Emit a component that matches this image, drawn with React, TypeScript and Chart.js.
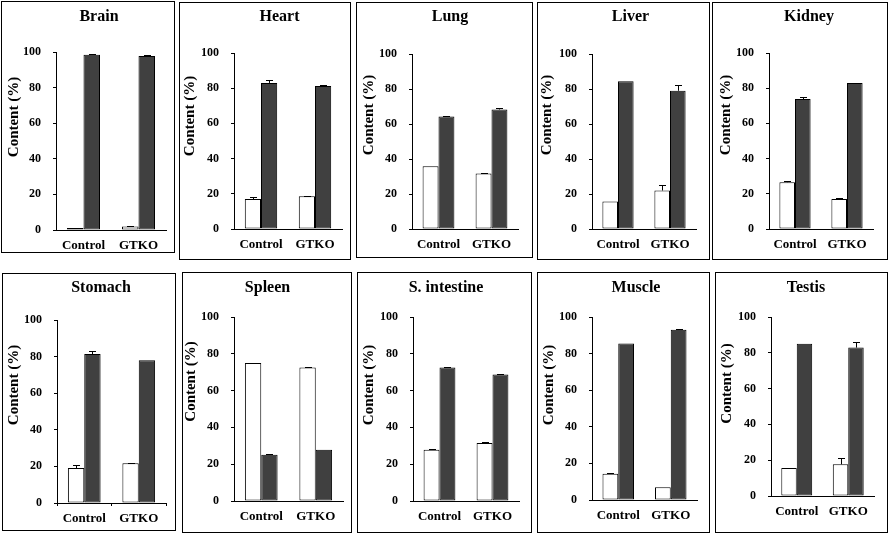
import React, { useEffect, useRef } from 'react';
import { Chart, registerables } from 'chart.js';

Chart.register(...registerables);

// ---------- DATA ----------
const panelTitles = ['Brain', 'Heart', 'Lung', 'Liver', 'Kidney', 'Stomach', 'Spleen', 'S. intestine', 'Muscle', 'Testis'];
const categories = ['Control', 'GTKO'];
const yAxisTitle = 'Content (%)';
const yMin = 0;
const yMax = 100;
const yStep = 20;

// white (open) bars per panel: [Control, GTKO]
const whiteValues = [
  [1.1, 1.9], [17.0, 18.6], [35.9, 31.7], [15.7, 22.0], [26.6, 17.1],
  [19.1, 21.7], [75.0, 72.5], [27.9, 31.5], [14.4, 6.9], [15.6, 17.7],
];
const whiteErrors = [
  [0.3, 0.3], [1.4, 0.4], [0, 0.4], [0, 3.4], [0.6, 0.3],
  [1.7, 0.4], [0, 0.5], [0.3, 0.3], [0.4, 0], [0.3, 3.5],
];
// dark (filled) bars per panel: [Control, GTKO]
const darkValues = [
  [98.5, 97.8], [83.0, 81.3], [64.3, 68.3], [84.5, 79.0], [73.8, 82.9],
  [81.4, 78.0], [25.2, 27.9], [72.5, 68.8], [85.5, 93.1], [85.1, 82.9],
];
const darkErrors = [
  [0.3, 0.3], [1.7, 0.4], [0.3, 0.6], [0, 3.2], [1.1, 0],
  [1.5, 0], [0.3, 0], [0.4, 0.4], [0, 0.3], [0, 3.3],
];

// ---------- LAYOUT (page pixels) ----------
// box borders [left, top, right, bottom]
const panelBoxes = [
  [1, 1, 174, 252], [179, 2, 350, 259], [356, 2, 532, 257], [537, 2, 709, 259], [712, 2, 887, 259],
  [2, 273, 175, 530], [182, 272, 351, 532], [357, 272, 531, 532], [537, 272, 709, 532], [715, 272, 887, 532],
];
// plot frame [yAxisX, y at 100, y at 0, x-axis end]
const plotFrames = [
  [56, 52, 230, 166], [234, 53, 229, 342], [412, 54, 229, 518], [592, 54, 229, 696], [769, 53, 229, 873],
  [57, 320, 503, 166], [234, 317, 501, 343], [413, 317, 501, 519], [592, 317, 500, 697], [771, 317, 496, 874],
];
// panel title centre [x, y]
const titleCentres = [
  [99, 17], [279.5, 16.5], [450, 17], [630.5, 17], [809, 17],
  [101, 287.5], [267.5, 287.5], [446, 288], [636, 287.5], [806, 287.5],
];
// y-axis title centre [x, y]
const yTitleCentres = [
  [14, 117], [190.5, 116], [369, 115], [547.5, 115], [726, 115],
  [14, 385], [191, 381.5], [369, 385], [549, 385], [727.5, 383.5],
];
const xTickMarks = [false, false, false, false, false, true, false, false, false, false];

const FONT = "'Liberation Serif', 'Times New Roman', serif";

const errorBarPlugin = {
  id: 'errorBars',
  afterDatasetsDraw(chart: any) {
    const { ctx } = chart;
    const yScale = chart.scales.y;
    chart.data.datasets.forEach((ds: any, di: number) => {
      const meta = chart.getDatasetMeta(di);
      const errs = ds.errors || [];
      meta.data.forEach((bar: any, i: number) => {
        const err = errs[i];
        if (!err) return;
        const v = ds.data[i];
        const yTop = Math.round(yScale.getPixelForValue(v + err)) + 0.5;
        const x = Math.round(bar.x) + 0.5;
        ctx.save();
        ctx.strokeStyle = '#000';
        ctx.lineWidth = 1;
        ctx.beginPath();
        ctx.moveTo(x, bar.y);
        ctx.lineTo(x, yTop);
        ctx.moveTo(x - 3.5, yTop);
        ctx.lineTo(x + 3.5, yTop);
        ctx.stroke();
        ctx.restore();
      });
    });
  },
};

// draws the panel title and the rotated y-axis title at given positions
const panelTextPlugin = {
  id: 'panelText',
  afterDraw(chart: any, _args: any, opts: any) {
    const { ctx } = chart;
    ctx.save();
    ctx.fillStyle = '#000';
    ctx.textAlign = 'center';
    ctx.textBaseline = 'middle';
    ctx.font = `bold 16px ${FONT}`;
    ctx.fillText(opts.title, opts.tx, opts.ty);
    ctx.translate(opts.yx, opts.yy);
    ctx.rotate(-Math.PI / 2);
    ctx.font = `bold 15px ${FONT}`;
    ctx.fillText(opts.yTitle, 0, 0);
    ctx.restore();
  },
};

function Panel({ index }: { index: number }) {
  const ref = useRef<HTMLCanvasElement | null>(null);
  const [L, T, R, B] = panelBoxes[index];
  const cw = R - L - 1;
  const ch = B - T - 1;

  useEffect(() => {
    if (!ref.current) return;
    const [axisX, y100, y0, xEnd] = plotFrames[index];
    const [tcx, tcy] = titleCentres[index];
    const [ytx, yty] = yTitleCentres[index];
    const ox = L + 1;
    const oy = T + 1;
    const padR = R - xEnd;
    const yWidth = axisX - ox;
    const xHeight = B - y0;
    const padTop = y100 - oy;
    const hasXTicks = xTickMarks[index];

    const chart = new Chart(ref.current, {
      type: 'bar',
      data: {
        labels: categories,
        datasets: [
          {
            label: 'white',
            data: whiteValues[index],
            errors: whiteErrors[index],
            backgroundColor: '#ffffff',
            borderColor: '#000000',
            borderWidth: 1,
            borderSkipped: false,
            categoryPercentage: 0.6,
            barPercentage: 1,
          } as any,
          {
            label: 'dark',
            data: darkValues[index],
            errors: darkErrors[index],
            backgroundColor: '#404040',
            borderColor: '#000000',
            borderWidth: 1,
            borderSkipped: false,
            categoryPercentage: 0.6,
            barPercentage: 1,
          } as any,
        ],
      },
      options: {
        responsive: false,
        animation: false,
        layout: { padding: { left: 0, right: padR, top: padTop, bottom: 0 } },
        plugins: {
          legend: { display: false },
          tooltip: { enabled: false },
          title: { display: false },
          panelText: {
            title: panelTitles[index],
            tx: tcx - ox,
            ty: tcy - oy,
            yTitle: yAxisTitle,
            yx: ytx - ox,
            yy: yty - oy,
          },
        } as any,
        scales: {
          x: {
            type: 'category',
            offset: true,
            grid: {
              display: true,
              offset: true,
              drawOnChartArea: false,
              drawTicks: hasXTicks,
              tickLength: 3,
              color: '#000',
            },
            border: { display: true, color: '#000', width: 1 },
            ticks: {
              color: '#000',
              font: { family: FONT, size: 13, weight: 'bold' },
              padding: hasXTicks ? 5 : 8,
              maxRotation: 0,
            },
            afterFit: (s: any) => { s.height = xHeight; },
          },
          y: {
            min: yMin,
            max: yMax,
            grid: {
              display: true,
              drawOnChartArea: false,
              drawTicks: true,
              tickLength: 3,
              color: '#000',
            },
            border: { display: true, color: '#000', width: 1 },
            ticks: {
              stepSize: yStep,
              color: '#000',
              font: { family: FONT, size: 12, weight: 'bold' },
              padding: 12,
            },
            afterFit: (s: any) => { s.width = yWidth; },
          },
        },
      },
      plugins: [errorBarPlugin, panelTextPlugin],
    });
    return () => chart.destroy();
  }, [index]);

  return (
    <div
      style={{
        position: 'absolute',
        left: L,
        top: T,
        width: R - L + 1,
        height: B - T + 1,
        border: '1px solid #000',
        boxSizing: 'border-box',
        background: '#fff',
      }}
    >
      <canvas ref={ref} width={cw} height={ch} style={{ display: 'block', width: cw, height: ch }} />
    </div>
  );
}

export default function App() {
  return (
    <div style={{ position: 'absolute', left: 0, top: 0, width: 890, height: 534, background: '#fff' }}>
      {panelTitles.map((_, i) => (
        <Panel key={i} index={i} />
      ))}
    </div>
  );
}
